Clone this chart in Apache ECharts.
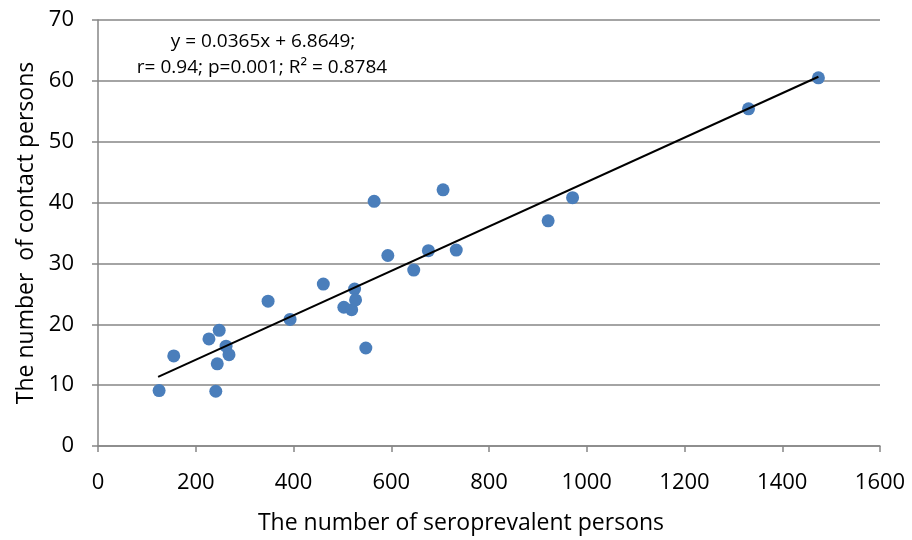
<!DOCTYPE html>
<html><head><meta charset="utf-8">
<script src="https://cdn.jsdelivr.net/npm/echarts@6/dist/echarts.min.js"></script>
<style>html,body{margin:0;padding:0;background:#fff}#c{width:912px;height:540px}</style>
</head><body><div id="c"></div>
<script>
const seroX = [125, 155, 227, 248, 262, 268, 244, 241, 348, 393, 461, 503, 519, 525, 527, 548, 565, 593, 646, 676, 706, 733, 921, 971, 1331, 1474];
const contactY = [9.1, 14.8, 17.6, 19.0, 16.4, 15.0, 13.5, 9.0, 23.8, 20.8, 26.6, 22.8, 22.4, 25.8, 24.0, 16.1, 40.2, 31.3, 28.9, 32.1, 42.1, 32.2, 37.0, 40.8, 55.4, 60.5];
const trendX = [123, 1474];
const trendY = [11.35, 60.67];
const xTicks = [0, 200, 400, 600, 800, 1000, 1200, 1400, 1600];
const yTicks = [0, 10, 20, 30, 40, 50, 60, 70];
const eqLine1 = 'y = 0.0365x + 6.8649;';
const eqLine2 = 'r= 0.94; p=0.001; R² = 0.8784';

const font = "'Open Sans', sans-serif";
const chart = echarts.init(document.getElementById('c'), null, {renderer: 'canvas'});
chart.setOption({
  animation: false,
  backgroundColor: '#fff',
  grid: {left: 98, right: 32, top: 20, bottom: 94, containLabel: false},
  xAxis: {
    type: 'value', min: xTicks[0], max: xTicks[xTicks.length-1], interval: 200,
    name: 'The number of seroprevalent persons', nameLocation: 'middle', nameGap: 66,
    nameTextStyle: {fontFamily: font, fontSize: 23, color: '#000', padding: [0, 56, 0, 0]},
    axisLine: {show: true, lineStyle: {color: '#868686', width: 1.5}},
    axisTick: {show: true, length: 6, lineStyle: {color: '#868686', width: 1.5}},
    axisLabel: {fontFamily: font, fontSize: 22, color: '#000', margin: 26, formatter: v => String(v)},
    splitLine: {show: false}
  },
  yAxis: {
    type: 'value', min: yTicks[0], max: yTicks[yTicks.length-1], interval: 10,
    name: 'The number  of contact persons', nameLocation: 'middle', nameGap: 60,
    nameTextStyle: {fontFamily: font, fontSize: 23, color: '#000'},
    axisLine: {show: true, lineStyle: {color: '#868686', width: 1.5}},
    axisTick: {show: true, length: 6, lineStyle: {color: '#868686', width: 1.5}},
    axisLabel: {fontFamily: font, fontSize: 22, color: '#000', margin: 24, formatter: v => String(v)},
    splitLine: {show: true, lineStyle: {color: '#868686', width: 1.5}}
  },
  graphic: [
    {type: 'text', x: 263, y: 42, style: {text: eqLine1, fontFamily: font, fontSize: 19, fill: '#000', align: 'center', verticalAlign: 'middle'}},
    {type: 'text', x: 262, y: 68, style: {text: eqLine2, fontFamily: font, fontSize: 19, fill: '#000', align: 'center', verticalAlign: 'middle'}}
  ],
  series: [
    {type: 'scatter', data: seroX.map((x, i) => [x, contactY[i]]), symbolSize: 13,
     itemStyle: {color: '#4A7EBB', opacity: 1}, z: 3},
    {type: 'line', data: trendX.map((x, i) => [x, trendY[i]]), showSymbol: false, symbol: 'none',
     lineStyle: {color: '#000', width: 2}, z: 4}
  ]
});
</script></body></html>
